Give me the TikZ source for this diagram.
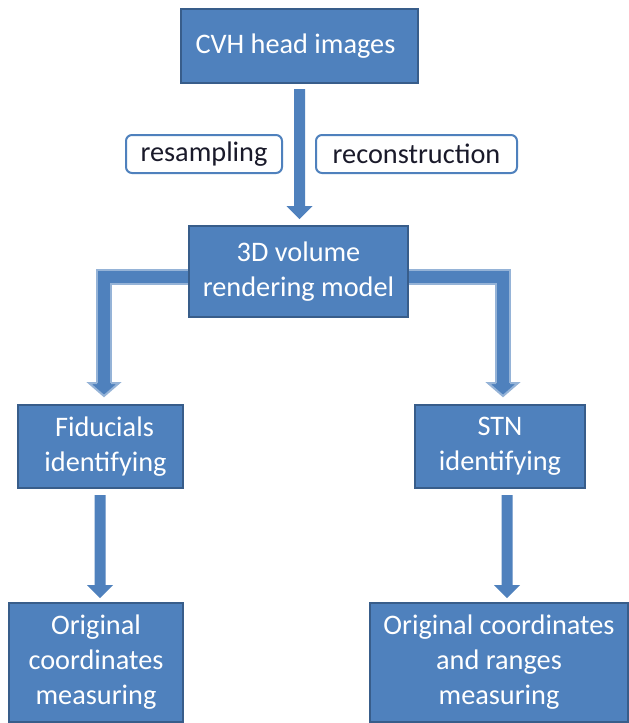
\documentclass[tikz,border=0pt]{standalone}
\usepackage{fontspec}
\setmainfont{Carlito}
\usetikzlibrary{calc,backgrounds}
\definecolor{boxfill}{HTML}{4F81BD}
\definecolor{boxline}{HTML}{385D8A}
\definecolor{arrowedge}{HTML}{95B3D7}
\definecolor{labtext}{HTML}{1A1A2A}
\newcommand{\flowarr}[2]{%
  \fill[boxfill] ($(#2 |- #1)+(-5.5,0)$) -- ($(#2)+(-5.5,-13)$) -- ($(#2)+(-13,-13)$) -- (#2)
     -- ($(#2)+(13,-13)$) -- ($(#2)+(5.5,-13)$) -- ($(#2 |- #1)+(5.5,0)$) -- cycle;}
\begin{document}
\begin{tikzpicture}[x=1pt,y=-1pt,
  every node/.style={inner sep=0pt, outer sep=0pt},
  blockbox/.style={rectangle, fill=boxfill, draw=boxline, line width=1.5pt, text=white,
    align=center, font=\fontsize{28.3}{35}\selectfont},
  tagbox/.style={rectangle, rounded corners=6pt, fill=white, draw=boxfill, line width=2pt,
    text=labtext, font=\fontsize{28.3}{35}\selectfont},
  elbowshaft/.style={draw=arrowedge, double=boxfill, line width=2pt, double distance=12pt,
    line join=miter, line cap=butt},
  elbowhead/.style={fill=boxfill, draw=arrowedge, line width=2pt, line join=miter}]
\useasboundingbox (0,0) rectangle (629,723);

\node[blockbox, minimum width=237pt, minimum height=74pt] (b1) at (299.5,46) {\raisebox{3pt}{CVH head images}\hspace*{8pt}};
\node[tagbox, minimum width=156pt, minimum height=38pt] (lab1) at (204,154) {resampling};
\node[tagbox, minimum width=201pt, minimum height=38pt] (lab2) at (416.5,154) {reconstruction};
\node[blockbox, minimum width=219pt, minimum height=91pt] (b2) at (298.5,271.5) {3D volume\\rendering model};
\node[blockbox, minimum width=165pt, minimum height=83pt] (b3) at (100.5,446.5) {\hspace*{8pt}Fiducials\\\hspace*{10pt}identifying};
\node[blockbox, minimum width=170pt, minimum height=83pt] (b4) at (500,446.5) {STN\\identifying};
\node[blockbox, minimum width=174pt, minimum height=119pt] (b5) at (96,662.5) {Original\\coordinates\\measuring};
\node[blockbox, minimum width=258pt, minimum height=119pt] (b6) at (499,662.5) {Original coordinates\\and ranges\\measuring};

% straight arrows
\coordinate (s1) at ([yshift=-6pt]b1.south);
\coordinate (e1) at ([xshift=1pt,yshift=7pt]b2.north);
\flowarr{s1}{e1}
\coordinate (s2) at ([yshift=-7pt]b3.south);
\coordinate (e2) at ([xshift=4pt,yshift=5pt]b5.north);
\flowarr{s2}{e2}
\coordinate (s3) at ([yshift=-7pt]b4.south);
\coordinate (e3) at ([xshift=8pt,yshift=5pt]b6.north);
\flowarr{s3}{e3}

% elbow arrows
\coordinate (Lh) at ([xshift=3.5pt,yshift=22pt]b3.north);
\coordinate (Rh) at ([xshift=3pt,yshift=22pt]b4.north);
\begin{pgfonlayer}{background}
\fill[white] (0,0) rectangle (629,723);
\draw[elbowshaft] ([yshift=-5pt]b2.center) -| (Lh);
\draw[elbowshaft] ([yshift=-5pt]b2.center) -| (Rh);
\end{pgfonlayer}
\filldraw[elbowhead] ($(Lh)+(-7,0)$) -- ($(Lh)+(-15,0)$) -- ($(Lh)+(0,13)$) -- ($(Lh)+(15,0)$) -- ($(Lh)+(7,0)$);
\filldraw[elbowhead] ($(Rh)+(-7,0)$) -- ($(Rh)+(-15,0)$) -- ($(Rh)+(0,13)$) -- ($(Rh)+(15,0)$) -- ($(Rh)+(7,0)$);
\end{tikzpicture}
\end{document}
